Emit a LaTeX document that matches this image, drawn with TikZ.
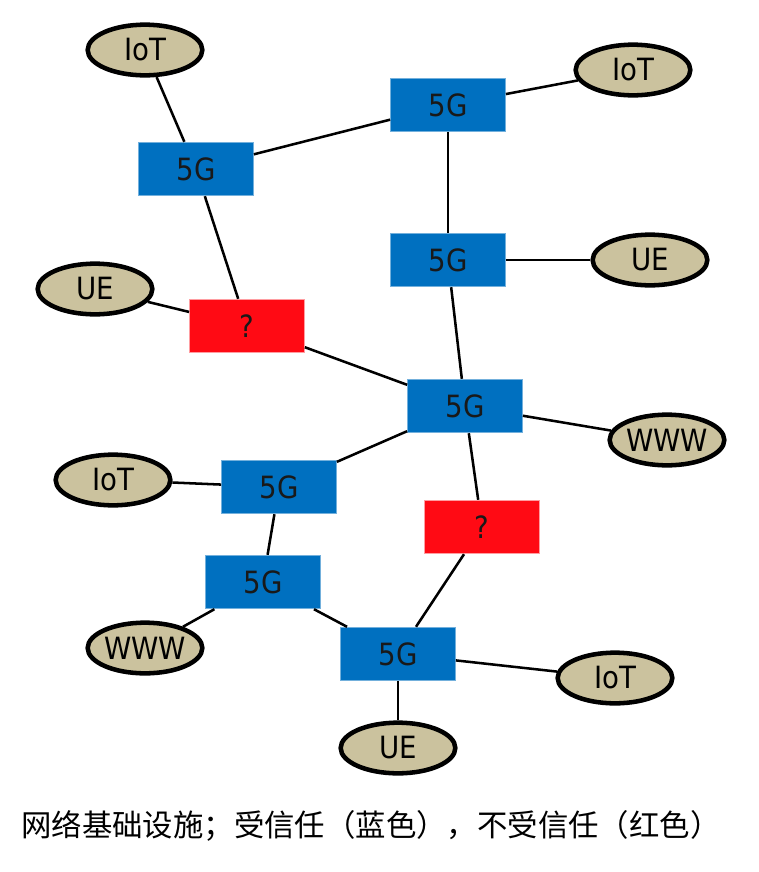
\documentclass[tikz,border=0pt]{standalone}
\usepackage{fontspec}
\setmainfont{DejaVu Sans}
\newfontfamily\netfont{DejaVu Sans Condensed}
\newfontfamily\cjk{Noto Sans CJK SC}
\usetikzlibrary{shapes.geometric}

\definecolor{netblue}{HTML}{0070C0}
\definecolor{netred}{HTML}{FF0A14}
\definecolor{devtan}{HTML}{CBC29E}

\tikzset{
  trusted/.style={rectangle, fill=netblue, draw=netblue!55, line width=0.8pt,
    minimum width=86pt, minimum height=40pt, inner sep=0pt,
    text=black!90, font=\netfont\fontsize{23}{27}\selectfont},
  untrusted/.style={trusted, fill=netred, draw=netred!40},
  device/.style={ellipse, draw=black, line width=3.4pt, fill=devtan,
    minimum width=86pt, minimum height=38pt, inner xsep=-12pt, inner ysep=0pt,
    font=\netfont\fontsize{23}{27}\selectfont},
  link/.style={line width=1.9pt}
}

\begin{document}
\begin{tikzpicture}[x=0.75pt, y=-0.75pt]
        \useasboundingbox (0,0) rectangle (758,872);

        % infrastructure
        \node[trusted] at (196,169) (a){5G};
        \node[trusted] at (448,105) (b){5G};
        \node[trusted] at (448,260) (c){5G};
        \node[trusted] at (465,406) (d){5G};
        \node[trusted] at (279,487) (e){5G};
        \node[trusted] at (263,582) (f){5G};
        \node[trusted] at (398,654) (g){5G};
        \node[untrusted] at (247,326) (q1){?};
        \node[untrusted] at (482,527) (q2){?};

        % devices
        \node[device] at (145,50) (iot1){IoT};
        \node[device] at (633,70) (iot2){IoT};
        \node[device] at (650,260) (ue1){UE};
        \node[device] at (95,289) (ue2){UE};
        \node[device] at (667,440) (www1){WWW};
        \node[device] at (113,480) (iot3){IoT};
        \node[device] at (145,648) (www2){WWW};
        \node[device] at (615,678) (iot4){IoT};
        \node[device] at (398,748) (ue3){UE};

        \draw[link]
        (iot1) edge (a)
        (a) edge (b)
        (b) edge (iot2)
        (b) edge (c)
        (c) edge (ue1)
        (a) edge (q1)
        (ue2) edge (q1)
        (q1) edge (d)
        (c) edge (d)
        (d) edge (www1)
        (d) edge (e)
        (e) edge (iot3)
        (e) edge (f)
        (f) edge (www2)
        (f) edge (g)
        (d) edge (q2)
        (q2) edge (g)
        (g) edge (iot4)
        (g) edge (ue3);

        \node[font=\cjk\fontsize{22.8}{27}\selectfont] at (371,826) (caption)
        {网络基础设施；受信任（蓝色），不受信任（红色）};
    \end{tikzpicture}
\end{document}
